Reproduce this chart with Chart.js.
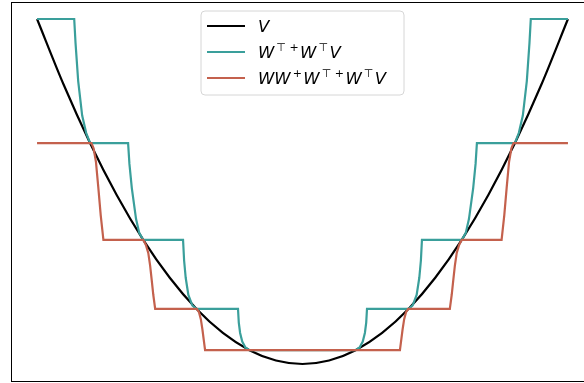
<!DOCTYPE html>
<html>
<head>
<meta charset="utf-8">
<script src="https://cdn.jsdelivr.net/npm/chart.js@4.4.1/dist/chart.umd.min.js"></script>
<style>
  body { margin: 0; overflow: hidden; background: #fff; }
  #wrap { position: absolute; left: 0; top: 0; width: 600px; height: 383px; }
</style>
</head>
<body>
<div id="wrap"><canvas id="myChart"></canvas></div>
<script>
// V (parabola)
var vX = [-1, -0.9, -0.8, -0.7, -0.6, -0.5, -0.4, -0.3, -0.2, -0.1, 0, 0.1, 0.2, 0.3, 0.4, 0.5, 0.6, 0.7, 0.8, 0.9, 1];
var vY = [1, 0.81, 0.64, 0.49, 0.36, 0.25, 0.16, 0.09, 0.04, 0.01, 0, 0.01, 0.04, 0.09, 0.16, 0.25, 0.36, 0.49, 0.64, 0.81, 1];

// W^T+ W^T V (teal)
var tealX = [-1, -0.86, -0.855, -0.845, -0.83, -0.815, -0.8,
  -0.657, -0.652, -0.643, -0.627, -0.615, -0.6,
  -0.45, -0.446, -0.44, -0.43, -0.415, -0.4,
  -0.243, -0.24, -0.235, -0.227, -0.215, -0.2,
  0.2, 0.215, 0.227, 0.235, 0.24, 0.243,
  0.4, 0.415, 0.43, 0.44, 0.446, 0.45,
  0.6, 0.615, 0.627, 0.643, 0.652, 0.657,
  0.8, 0.815, 0.83, 0.845, 0.855, 0.86, 1];
var tealY = [1, 1, 0.93, 0.82, 0.72, 0.67, 0.64,
  0.64, 0.58, 0.51, 0.42, 0.38, 0.36,
  0.36, 0.30, 0.25, 0.20, 0.17, 0.16,
  0.16, 0.12, 0.09, 0.065, 0.048, 0.04,
  0.04, 0.048, 0.065, 0.09, 0.12, 0.16,
  0.16, 0.17, 0.20, 0.25, 0.30, 0.36,
  0.36, 0.38, 0.42, 0.51, 0.58, 0.64,
  0.64, 0.67, 0.72, 0.82, 0.93, 1, 1];

// W W^+ W^T+ W^T V (red)
var redX = [-1, -0.795, -0.787, -0.778, -0.769, -0.76, -0.75,
  -0.6, -0.59, -0.581, -0.574, -0.568, -0.562, -0.555,
  -0.398, -0.39, -0.383, -0.377, -0.372, -0.367,
  0.367, 0.372, 0.377, 0.383, 0.39, 0.398,
  0.555, 0.562, 0.568, 0.574, 0.581, 0.59, 0.6,
  0.75, 0.76, 0.769, 0.778, 0.787, 0.795, 1];
var redY = [0.64, 0.64, 0.625, 0.585, 0.51, 0.43, 0.36,
  0.36, 0.345, 0.322, 0.285, 0.243, 0.2, 0.16,
  0.16, 0.15, 0.13, 0.1, 0.07, 0.04,
  0.04, 0.07, 0.1, 0.13, 0.15, 0.16,
  0.16, 0.2, 0.243, 0.285, 0.322, 0.345, 0.36,
  0.36, 0.43, 0.51, 0.585, 0.625, 0.64, 0.64];

var labels = ["V", "W⊤+W⊤V", "WW+W⊤+W⊤V"];
// legend text pieces: [text, superscript?]
var labelParts = [
  [["V", 0]],
  [["W", 0], ["⊤ +", 1], ["W", 0], ["⊤", 1], ["V", 0]],
  [["WW", 0], ["+", 1], ["W", 0], ["⊤ +", 1], ["W", 0], ["⊤", 1], ["V", 0]]
];
var colors = ["#000000", "#3a9f9b", "#c4614d"];

function pts(xs, ys) {
  var out = [];
  for (var i = 0; i < xs.length; i++) out.push({x: xs[i], y: ys[i]});
  return out;
}

var frame = {
  id: 'frame',
  afterDraw: function(chart) {
    var c = chart.ctx, a = chart.chartArea;
    c.save();
    c.strokeStyle = '#000';
    c.lineWidth = 1;
    c.strokeRect(Math.round(a.left) + 0.5, Math.round(a.top) + 0.5, Math.round(a.right - a.left), Math.round(a.bottom - a.top) - 1);

    // legend
    var lx = 201, ly = 11, lw = 203, lh = 84, r = 4;
    c.beginPath();
    c.moveTo(lx + r, ly);
    c.arcTo(lx + lw, ly, lx + lw, ly + lh, r);
    c.arcTo(lx + lw, ly + lh, lx, ly + lh, r);
    c.arcTo(lx, ly + lh, lx, ly, r);
    c.arcTo(lx, ly, lx + lw, ly, r);
    c.closePath();
    c.fillStyle = 'rgba(255,255,255,0.85)';
    c.fill();
    c.strokeStyle = '#d6d6d6';
    c.lineWidth = 1;
    c.stroke();

    for (var i = 0; i < labelParts.length; i++) {
      var y = 26 + i * 26;
      c.strokeStyle = colors[i];
      c.lineWidth = 2;
      c.beginPath();
      c.moveTo(207, y);
      c.lineTo(245, y);
      c.stroke();
      var x = 258;
      c.fillStyle = '#000';
      c.textBaseline = 'alphabetic';
      for (var j = 0; j < labelParts[i].length; j++) {
        var p = labelParts[i][j];
        if (p[1]) {
          c.font = '11px "DejaVu Sans"';
          c.fillText(p[0], x + 2, y - 1);
          x += c.measureText(p[0]).width + 3.5;
        } else {
          c.font = 'italic 16.5px "DejaVu Sans"';
          c.fillText(p[0], x, y + 6);
          x += c.measureText(p[0]).width;
        }
      }
    }
    c.restore();
  }
};

var ctx = document.getElementById("myChart").getContext('2d');
var myChart = new Chart(ctx, {
  type: 'line',
  data: {
    datasets: [
      { label: labels[0], data: pts(vX, vY), borderColor: colors[0], borderWidth: 2.2, pointRadius: 0, cubicInterpolationMode: 'monotone', order: 3 },
      { label: labels[1], data: pts(tealX, tealY), borderColor: colors[1], borderWidth: 2.2, pointRadius: 0, tension: 0, order: 2 },
      { label: labels[2], data: pts(redX, redY), borderColor: colors[2], borderWidth: 2.2, pointRadius: 0, tension: 0, order: 1 }
    ]
  },
  options: {
    responsive: true,
    maintainAspectRatio: false,
    animation: false,
    layout: { padding: { left: 10.5, right: 5.5, top: 1.75, bottom: 1.75 } },
    plugins: { legend: { display: false }, tooltip: { enabled: false } },
    scales: {
      x: { type: 'linear', min: -1.1, max: 1.1, display: false },
      y: { type: 'linear', min: -0.05, max: 1.05, display: false }
    }
  },
  plugins: [frame]
});
</script>
</body>
</html>
